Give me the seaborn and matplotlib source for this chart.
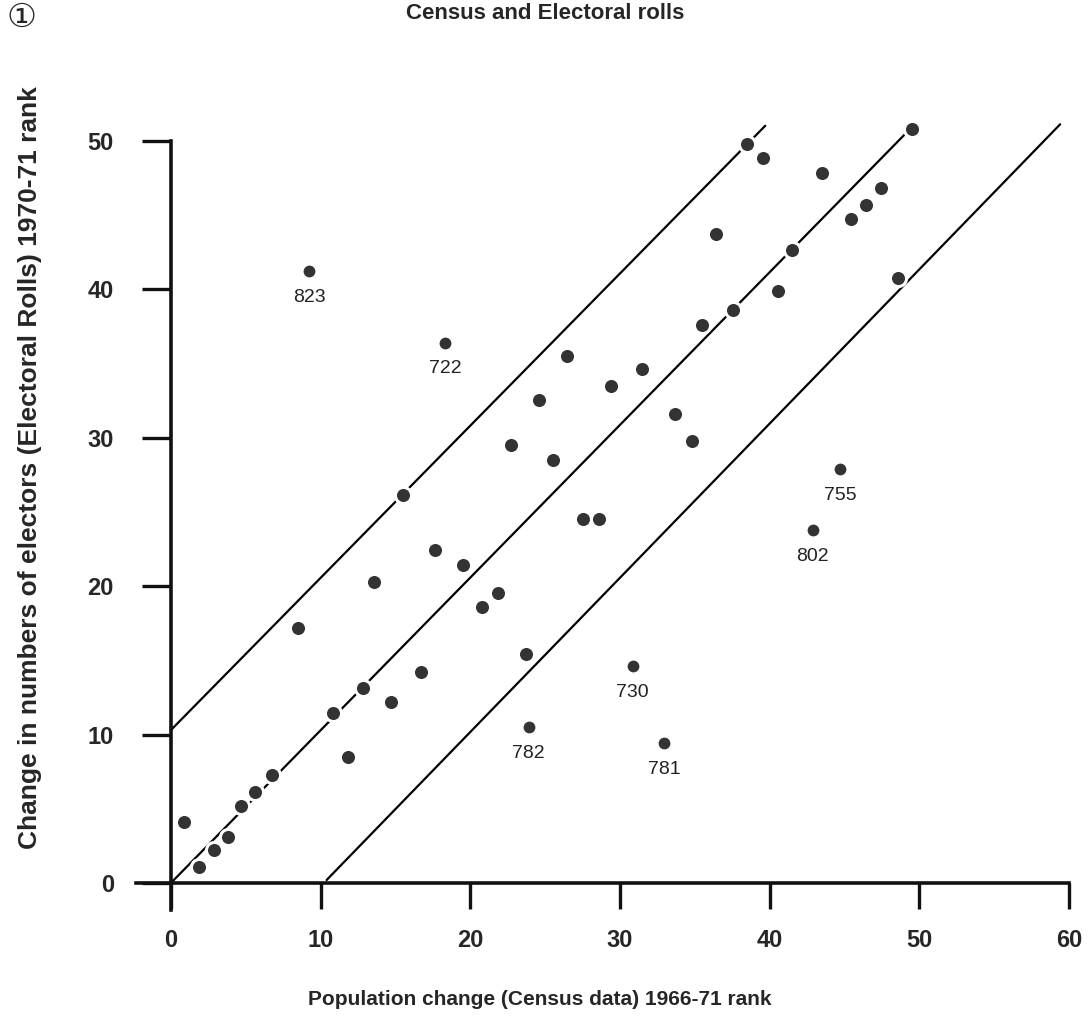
import matplotlib
matplotlib.use("Agg")
import matplotlib.pyplot as plt
import seaborn as sns
import pandas as pd

# ranks (districts inside / near the band)
census_rank = [0.9, 1.9, 2.85, 3.8, 4.65, 5.65, 6.73, 8.5, 10.84, 11.83,
               12.84, 13.56, 14.7, 15.5, 16.72, 17.67, 19.5, 20.8, 21.84, 22.7,
               23.7, 24.6, 25.5, 26.44, 27.5, 28.6, 29.4, 31.5, 33.7, 34.8,
               35.5, 36.4, 37.55, 38.45, 39.55, 40.56, 41.5, 43.5, 45.4, 46.4,
               47.4, 48.6, 49.5]
elector_rank = [4.1, 1.1, 2.2, 3.1, 5.2, 6.15, 7.25, 17.2, 11.47, 8.46,
                13.1, 20.25, 12.19, 26.1, 14.19, 22.4, 21.4, 18.56, 19.5, 29.5,
                15.4, 32.5, 28.5, 35.5, 24.5, 24.5, 33.5, 34.6, 31.6, 29.76,
                37.6, 43.7, 38.6, 49.8, 48.8, 39.86, 42.65, 47.8, 44.75, 45.65,
                46.8, 40.75, 50.8]

# labelled outliers
outlier_ids = ["823", "722", "782", "730", "781", "802", "755"]
outlier_census = [9.23, 18.3, 23.9, 30.85, 32.96, 42.86, 44.7]
outlier_elector = [41.2, 36.4, 10.5, 14.6, 9.4, 23.8, 27.9]

# the three guide lines (start / end points)
line_x0 = [0, 0, 10.4]
line_y0 = [10.3, 0, 0.2]
line_x1 = [39.7, 49.0, 59.4]
line_y1 = [51.0, 50.4, 51.1]

x_ticks = [0, 10, 20, 30, 40, 50, 60]
y_ticks = [0, 10, 20, 30, 40, 50]

sns.set_style("ticks")
plt.rcParams["font.family"] = ["Liberation Sans", "DejaVu Sans"]

band = pd.DataFrame({"census": census_rank, "electors": elector_rank})
outliers = pd.DataFrame({"census": outlier_census, "electors": outlier_elector,
                         "district": outlier_ids})

fig = plt.figure(figsize=(10.9, 10.29), dpi=100)
ax = fig.add_axes([0.1156, 0.0914, 0.879, 0.8008])

for x0, y0, x1, y1 in zip(line_x0, line_y0, line_x1, line_y1):
    ax.plot([x0, x1], [y0, y1], color="black", lw=1.6, zorder=1)

sns.scatterplot(data=band, x="census", y="electors", ax=ax, s=135,
                color="#333333", edgecolor="white", linewidth=2.2, zorder=3)
sns.scatterplot(data=outliers, x="census", y="electors", ax=ax, s=100,
                color="#333333", edgecolor="white", linewidth=1.5, zorder=3)

for _, row in outliers.iterrows():
    ax.annotate(row["district"], (row["census"], row["electors"]),
                xytext=(0, -19), textcoords="offset points",
                ha="center", va="center", fontsize=14, color="#222222")

ax.set_xlim(-3, 61)
ax.set_ylim(-3.5, 52)
for side in ["top", "right"]:
    ax.spines[side].set_visible(False)
ax.spines["left"].set_position(("data", 0))
ax.spines["bottom"].set_position(("data", 0))
ax.spines["left"].set_bounds(-1.8, 50)
ax.spines["bottom"].set_bounds(-2.3, 60)
for side in ["left", "bottom"]:
    ax.spines[side].set_linewidth(2.6)
    ax.spines[side].set_color("#111111")

ax.set_xticks(x_ticks)
ax.set_yticks(y_ticks)
ax.tick_params(axis="x", direction="out", length=19, width=2.4, pad=14,
               color="#111111")
ax.tick_params(axis="y", direction="out", length=21, width=2.4, pad=20,
               color="#111111")
for lbl in ax.get_xticklabels() + ax.get_yticklabels():
    lbl.set_fontweight("bold")
    lbl.set_fontsize(17)
ax.set_xlabel("")
ax.set_ylabel("")

fig.text(0.5, 0.987, "Census and Electoral rolls", ha="center", va="center",
         fontsize=16, fontweight="bold")
fig.text(0.006, 0.983, "\u2460", ha="left", va="center", fontsize=24,
         family=["DejaVu Sans", "Noto Sans CJK JP"])
fig.text(0.0275, 0.546,
         "Change in numbers of electors (Electoral Rolls) 1970-71 rank",
         rotation=90, ha="center", va="center", fontsize=19, fontweight="bold")
fig.text(0.4954, 0.0282, "Population change (Census data) 1966-71 rank",
         ha="center", va="center", fontsize=15, fontweight="bold")

fig.savefig("out.png", dpi=100, facecolor="white")
